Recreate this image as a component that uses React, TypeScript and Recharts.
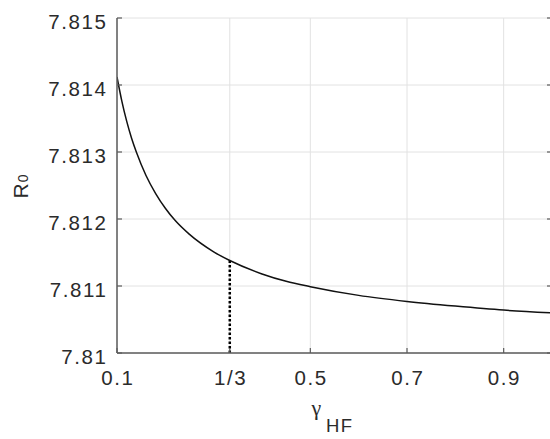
import React from 'react';
import { LineChart, Line, XAxis, YAxis, CartesianGrid, ReferenceLine } from 'recharts';

// gamma_HF values and R0
const gammaValues = [0.1, 0.11, 0.12, 0.13, 0.14, 0.16, 0.18, 0.2, 0.22, 0.25, 0.3, 1 / 3, 0.4, 0.45, 0.5, 0.6, 0.7, 0.8, 0.9, 1.0];
const r0Values = [
  7.81412, 7.81376, 7.81346, 7.81321, 7.813, 7.81265, 7.81238, 7.81216, 7.81198, 7.81177,
  7.81151, 7.81138, 7.81118, 7.81107, 7.81099, 7.81086, 7.81077, 7.8107, 7.81064, 7.8106,
];

const xTicks = [0.1, 1 / 3, 0.5, 0.7, 0.9];
const xTickLabels = ['0.1', '1/3', '0.5', '0.7', '0.9'];
const yTicks = [7.81, 7.811, 7.812, 7.813, 7.814, 7.815];
const yTickLabels = ['7.81', '7.811', '7.812', '7.813', '7.814', '7.815'];

// dotted marker at gamma_HF = 1/3
const markerGamma = 1 / 3;
const markerR0 = 7.81138;

const data = gammaValues.map((g, i) => ({ gamma: g, r0: r0Values[i] }));

const TEXT = '#2b2b2b';
const AXIS = '#5c5c5c';
const FONT = '"Liberation Sans", Arial, sans-serif';

const nearest = (arr: number[], v: number) => {
  let best = 0;
  arr.forEach((t, i) => { if (Math.abs(t - v) < Math.abs(arr[best] - v)) best = i; });
  return best;
};

const BottomTick = (props: any) => {
  const { x, y, payload } = props;
  const label = xTickLabels[nearest(xTicks, payload.value)];
  return (
    <g>
      <line x1={x} y1={y} x2={x} y2={y - 5} stroke={AXIS} strokeWidth={1.2} />
      <text x={x + 0.8} y={y + 32} textAnchor="middle" fontFamily={FONT} fontSize={20.5} letterSpacing={1.6} fill={TEXT}>
        {label}
      </text>
    </g>
  );
};

const TopTick = (props: any) => {
  const { x, y } = props;
  return <line x1={x} y1={y} x2={x} y2={y + 5} stroke={AXIS} strokeWidth={1.2} />;
};

const LeftTick = (props: any) => {
  const { x, y, payload } = props;
  const label = yTickLabels[nearest(yTicks, payload.value)];
  return (
    <g>
      <line x1={x} y1={y} x2={x + 5} y2={y} stroke={AXIS} strokeWidth={1.2} />
      <text x={x - 9.5} y={y + 10.5} textAnchor="end" fontFamily={FONT} fontSize={20.5} letterSpacing={1.6} fill={TEXT}>
        {label}
      </text>
    </g>
  );
};

const RightTick = (props: any) => {
  const { x, y } = props;
  return <line x1={x} y1={y} x2={x - 5} y2={y} stroke={AXIS} strokeWidth={1.2} />;
};

const XTitle = (props: any) => {
  const { x, y, width } = props.viewBox;
  const cx = x + width / 2;
  return (
    <g>
      <text x={cx - 23} y={y + 62} fontFamily='"Liberation Serif", serif' fontSize={22} fill={TEXT}>γ</text>
      <text x={cx - 8.5} y={y + 79} fontFamily={FONT} fontSize={18.5} letterSpacing={1.5} fill={TEXT}>HF</text>
    </g>
  );
};

const YTitle = (props: any) => {
  const { y, height } = props.viewBox;
  const cy = y + height / 2;
  return (
    <text transform={`translate(27.5, ${cy + 13}) rotate(-90)`} fontFamily={FONT} fontSize={21} fill={TEXT}>
      <tspan>R</tspan>
      <tspan fontSize={14} dx={1}>0</tspan>
    </text>
  );
};

export default function App() {
  return (
    <div style={{ position: 'absolute', left: 0, top: 0, width: 550, height: 439, overflow: 'hidden', background: '#fff' }}>
      <LineChart width={560} height={439} data={data} margin={{ top: 18, right: 0, bottom: 0, left: 0 }}>
        <CartesianGrid stroke="#e2e2e2" strokeWidth={1} />
        <XAxis
          dataKey="gamma"
          type="number"
          domain={[0.1, 1]}
          ticks={xTicks}
          interval={0}
          allowDataOverflow
          height={86}
          tickSize={0}
          tickMargin={0}
          tickLine={false}
          axisLine={{ stroke: AXIS, strokeWidth: 1.5 }}
          tick={<BottomTick />}
          label={<XTitle />}
        />
        <XAxis
          xAxisId="top"
          orientation="top"
          type="number"
          domain={[0.1, 1]}
          ticks={xTicks}
          interval={0}
          allowDataOverflow
          height={0}
          tickSize={0}
          tickMargin={0}
          tickLine={false}
          axisLine={{ stroke: AXIS, strokeWidth: 1.5 }}
          tick={<TopTick />}
        />
        <YAxis
          type="number"
          domain={[7.81, 7.815]}
          ticks={yTicks}
          interval={0}
          allowDataOverflow
          width={117}
          tickSize={0}
          tickMargin={0}
          tickLine={false}
          axisLine={{ stroke: AXIS, strokeWidth: 1.5 }}
          tick={<LeftTick />}
          label={<YTitle />}
        />
        <YAxis
          yAxisId="right"
          orientation="right"
          type="number"
          domain={[7.81, 7.815]}
          ticks={yTicks}
          interval={0}
          allowDataOverflow
          width={8}
          tickSize={0}
          tickMargin={0}
          tickLine={false}
          axisLine={{ stroke: AXIS, strokeWidth: 1.5 }}
          tick={<RightTick />}
        />
        <ReferenceLine
          segment={[{ x: markerGamma, y: yTicks[0] }, { x: markerGamma, y: markerR0 }]}
          stroke="#000"
          strokeWidth={2.5}
          strokeDasharray="2.5 2"
        />
        <Line
          type="monotone"
          dataKey="r0"
          stroke="#111"
          strokeWidth={1.5}
          dot={false}
          isAnimationActive={false}
        />
      </LineChart>
    </div>
  );
}
